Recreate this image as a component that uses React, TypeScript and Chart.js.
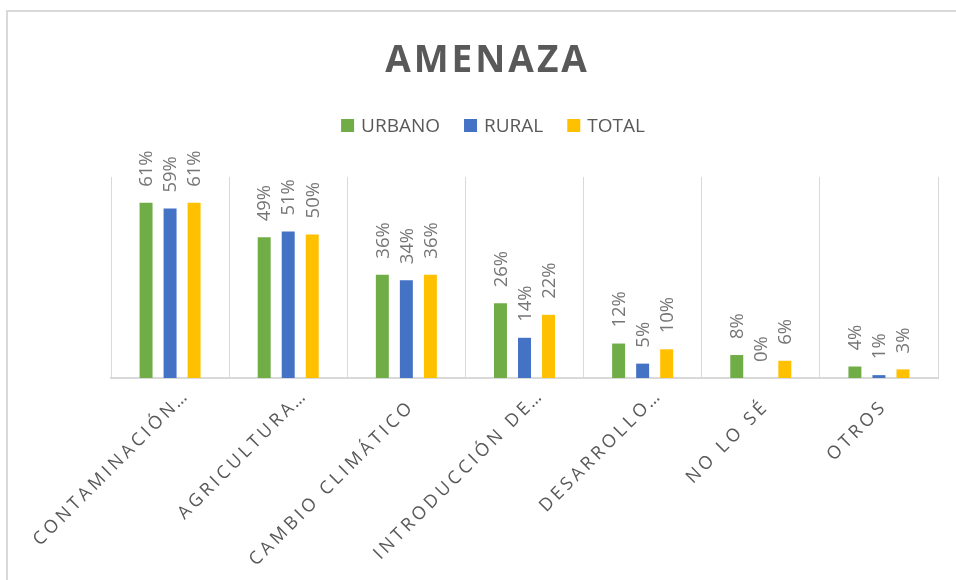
import { useEffect, useRef } from 'react';
import { Chart, registerables } from 'chart.js';

Chart.register(...registerables);

const TITLE = 'AMENAZA';
const categories = ['CONTAMINACIÓN', 'AGRICULTURA', 'CAMBIO CLIMÁTICO', 'INTRODUCCIÓN DE', 'DESARROLLO', 'NO LO SÉ', 'OTROS'];
const truncated = [true, true, false, true, true, false, false];
const seriesNames = ['URBANO', 'RURAL', 'TOTAL'];
const urbano = [61, 49, 36, 26, 12, 8, 4];
const rural = [59, 51, 34, 14, 5, 0, 1];
const total = [61, 50, 36, 22, 10, 6, 3];
const seriesColors = ['#70AD47', '#4472C4', '#FFC000'];
const yMax = 70;

const FONT = '"Open Sans", "Noto Sans", sans-serif';
const TEXT_DARK = '#595959';
const TEXT_LABEL = '#767676';

const decorPlugin = {
  id: 'decor',
  beforeDraw(chart: any) {
    const ctx = chart.ctx as CanvasRenderingContext2D;
    ctx.save();
    ctx.fillStyle = '#ffffff';
    ctx.fillRect(0, 0, chart.width, chart.height);
    ctx.strokeStyle = '#d9d9d9';
    ctx.lineWidth = 2;
    ctx.beginPath();
    ctx.moveTo(7, chart.height);
    ctx.lineTo(7, 11);
    ctx.lineTo(chart.width, 11);
    ctx.stroke();
    ctx.restore();
  },
  afterDatasetsDraw(chart: any) {
    const ctx = chart.ctx as CanvasRenderingContext2D;
    ctx.save();
    ctx.font = `18.5px ${FONT}`;
    ctx.fillStyle = TEXT_LABEL;
    ctx.textAlign = 'left';
    ctx.textBaseline = 'middle';
    chart.data.datasets.forEach((ds: any, i: number) => {
      const meta = chart.getDatasetMeta(i);
      meta.data.forEach((bar: any, j: number) => {
        const v = ds.data[j];
        ctx.save();
        ctx.translate(bar.x + 1, bar.y - 16);
        ctx.rotate(-Math.PI / 2);
        ctx.fillText(`${v}%`, 0, 0);
        ctx.restore();
      });
    });
    ctx.restore();
  },
  afterDraw(chart: any) {
    const ctx = chart.ctx as CanvasRenderingContext2D;
    const area = chart.chartArea;
    // Title
    ctx.save();
    ctx.font = `bold 37px ${FONT}`;
    (ctx as any).letterSpacing = '3px';
    ctx.fillStyle = TEXT_DARK;
    ctx.textAlign = 'left';
    ctx.textBaseline = 'alphabetic';
    const tw = ctx.measureText(TITLE).width - 3;
    ctx.fillText(TITLE, 486 - tw / 2, 72);
    ctx.restore();

    // Legend
    ctx.save();
    ctx.font = `19px ${FONT}`;
    ctx.textBaseline = 'alphabetic';
    ctx.textAlign = 'left';
    const box = 13;
    const gap = 7;
    const itemGap = 24;
    const widths = chart.data.datasets.map((ds: any) => box + gap + ctx.measureText(ds.label).width);
    const totalW = widths.reduce((a: number, b: number) => a + b, 0) + itemGap * (widths.length - 1);
    let x = 493 - totalW / 2;
    chart.data.datasets.forEach((ds: any, i: number) => {
      ctx.fillStyle = ds.backgroundColor;
      ctx.fillRect(x, 119, box, box);
      ctx.fillStyle = TEXT_DARK;
      ctx.fillText(ds.label, x + box + gap, 132);
      x += widths[i] + itemGap;
    });
    ctx.restore();

    // Category labels
    const xs = chart.scales.x;
    ctx.save();
    ctx.font = `18px ${FONT}`;
    const sp = 3.6;
    (ctx as any).letterSpacing = `${sp}px`;
    ctx.fillStyle = TEXT_DARK;
    ctx.textBaseline = 'middle';
    categories.forEach((c, i) => {
      const cx = xs.getPixelForValue(i);
      ctx.save();
      ctx.translate(cx + 3, area.bottom + 28);
      ctx.rotate(-Math.PI / 4);
      ctx.textAlign = 'right';
      ctx.fillText(c, sp, 0);
      if (truncated[i]) {
        ctx.textAlign = 'left';
        (ctx as any).letterSpacing = '0px';
        ctx.fillText('…', 2, 0);
        (ctx as any).letterSpacing = `${sp}px`;
      }
      ctx.restore();
    });
    ctx.restore();
  },
};

export default function App() {
  const ref = useRef<HTMLCanvasElement>(null);
  useEffect(() => {
    const chart = new Chart(ref.current as HTMLCanvasElement, {
      type: 'bar',
      data: {
        labels: categories,
        datasets: [
          { label: seriesNames[0], data: urbano, backgroundColor: seriesColors[0] },
          { label: seriesNames[1], data: rural, backgroundColor: seriesColors[1] },
          { label: seriesNames[2], data: total, backgroundColor: seriesColors[2] },
        ],
      },
      options: {
        responsive: false,
        animation: false,
        devicePixelRatio: 1,
        layout: { padding: { top: 177, left: 111, right: 18, bottom: 202 } },
        datasets: { bar: { barPercentage: 0.54, categoryPercentage: 0.61 } },
        plugins: {
          legend: { display: false },
          title: { display: false },
          tooltip: { enabled: false },
        },
        scales: {
          x: {
            type: 'category',
            offset: true,
            grid: { display: true, offset: true, color: '#d9d9d9', lineWidth: 1, drawTicks: false },
            border: { display: true, color: '#d9d9d9', width: 2 },
            ticks: { display: false },
          },
          y: {
            display: false,
            min: 0,
            max: yMax,
          },
        },
      } as any,
      plugins: [decorPlugin],
    });
    return () => chart.destroy();
  }, []);
  return (
    <div style={{ position: 'fixed', left: 0, top: 0, width: 956, height: 580, background: '#fff' }}>
      <canvas ref={ref} width={956} height={580} style={{ display: 'block', width: 956, height: 580 }} />
    </div>
  );
}
